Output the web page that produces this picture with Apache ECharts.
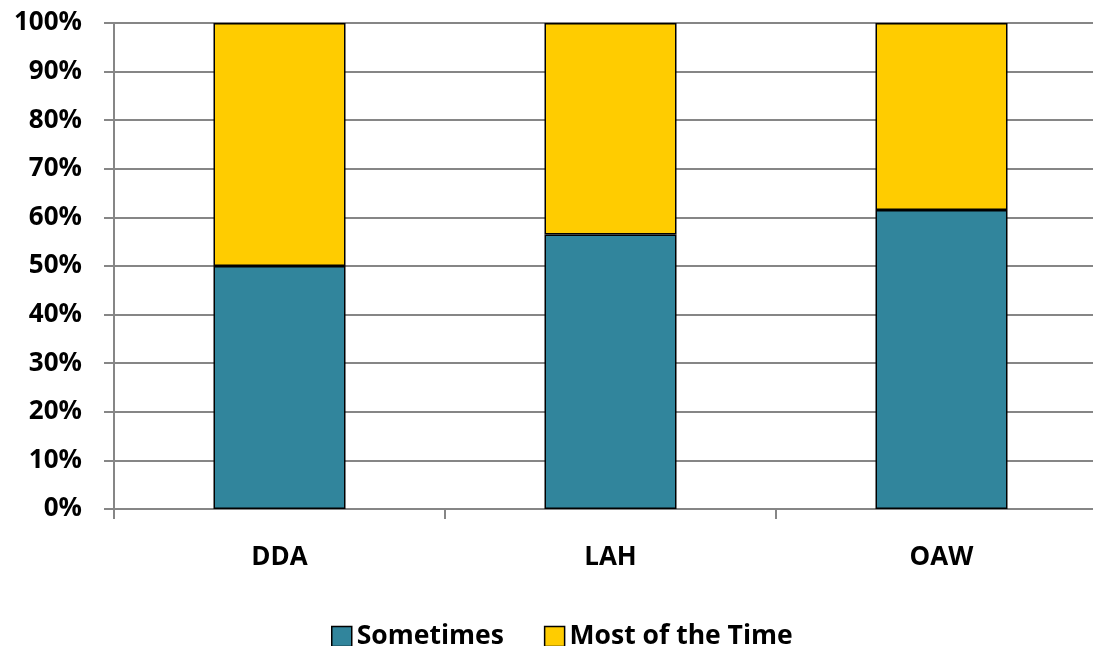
<!DOCTYPE html>
<html><head><meta charset="utf-8">
<script src="https://cdn.jsdelivr.net/npm/echarts@6/dist/echarts.min.js"></script>
<style>html,body{margin:0;padding:0;background:#fff;overflow:hidden;width:1093px;height:646px}#c{width:1107px;height:646px}</style>
</head><body><div id="c"></div>
<script>
const categories = ['DDA', 'LAH', 'OAW'];
const sometimes = [50, 56.5, 61.5];
const mostOfTheTime = [50, 43.5, 38.5];
const yTicks = [0, 10, 20, 30, 40, 50, 60, 70, 80, 90, 100];

const font = '"Open Sans", sans-serif';
const chart = echarts.init(document.getElementById('c'), null, {renderer: 'canvas'});
chart.setOption({
  animation: false,
  grid: {left: 114, right: 0, top: 23, bottom: 137},
  legend: {
    top: 618, left: 326, itemWidth: 20, itemHeight: 20, itemGap: 40, icon: 'rect',
    textStyle: {fontFamily: font, fontWeight: 'bold', fontSize: 26.5, color: '#000'},
    data: [
      {name: 'Sometimes', itemStyle: {borderColor: '#000', borderWidth: 1.5}},
      {name: 'Most of the Time', itemStyle: {borderColor: '#000', borderWidth: 1.5}}
    ]
  },
  xAxis: {
    type: 'category', data: categories,
    axisLine: {lineStyle: {color: '#868686', width: 2}},
    axisTick: {show: true, length: 10, lineStyle: {color: '#868686', width: 2}},
    axisLabel: {margin: 36, fontFamily: font, fontWeight: 'bold', fontSize: 26, color: '#000'}
  },
  yAxis: {
    type: 'value', min: 0, max: 100, interval: 10,
    axisLine: {show: true, lineStyle: {color: '#868686', width: 2}},
    axisTick: {show: true, length: 10, lineStyle: {color: '#868686', width: 2}},
    splitLine: {lineStyle: {color: '#868686', width: 2}},
    axisLabel: {margin: 32, fontFamily: font, fontWeight: 'bold', fontSize: 26, color: '#000',
      formatter: v => yTicks.includes(v) ? v + '%' : ''}
  },
  series: [
    {name: 'Sometimes', type: 'bar', stack: 's', data: sometimes, barWidth: 132,
     itemStyle: {color: '#31859C', borderColor: '#000', borderWidth: 1.5}},
    {name: 'Most of the Time', type: 'bar', stack: 's', data: mostOfTheTime, barWidth: 132,
     itemStyle: {color: '#FFCC00', borderColor: '#000', borderWidth: 1.5}}
  ]
});
</script></body></html>
